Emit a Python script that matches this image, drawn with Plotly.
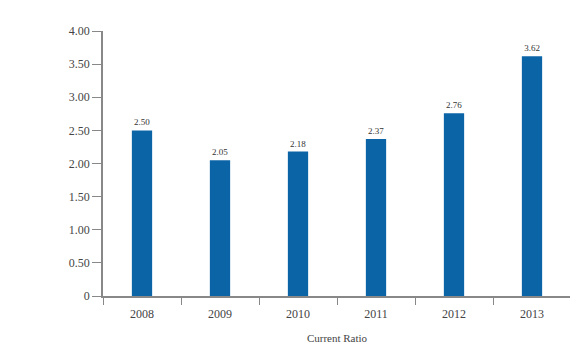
import plotly.graph_objects as go

years = ["2008", "2009", "2010", "2011", "2012", "2013"]
values = [2.50, 2.05, 2.18, 2.37, 2.76, 3.62]
value_labels = ["2.50", "2.05", "2.18", "2.37", "2.76", "3.62"]
ytick_vals = [0, 0.5, 1.0, 1.5, 2.0, 2.5, 3.0, 3.5, 4.0]
ytick_text = ["0", "0.50", "1.00", "1.50", "2.00", "2.50", "3.00", "3.50", "4.00"]

fig = go.Figure(go.Bar(
    x=years, y=values,
    marker=dict(color="#0b64a6", line=dict(width=0)),
    text=value_labels, textposition="outside",
    textfont=dict(family="Liberation Serif", size=9, color="#333333"),
    cliponaxis=False,
))

fig.update_layout(
    width=578, height=360,
    margin=dict(l=95, r=15, t=23, b=72),
    paper_bgcolor="white", plot_bgcolor="white",
    bargap=0.74,
    showlegend=False,
    font=dict(family="Liberation Serif", size=12, color="#444444"),
)
fig.update_xaxes(
    showline=True, linecolor="#888888", linewidth=1.5,
    ticks="outside", ticklen=7, tickcolor="#888888", tickson="boundaries",
    showgrid=False,
    ticklabelstandoff=6,
    title=dict(text="Current Ratio", font=dict(size=11), standoff=14),
    tickfont=dict(size=12),
)
fig.update_yaxes(
    range=[0, 4.0], tickvals=ytick_vals, ticktext=ytick_text,
    showline=True, linecolor="#888888", linewidth=1.5,
    ticks="outside", ticklen=9, tickcolor="#888888",
    showgrid=False, zeroline=False,
    tickfont=dict(size=12),
)

fig.write_html("out.html")
